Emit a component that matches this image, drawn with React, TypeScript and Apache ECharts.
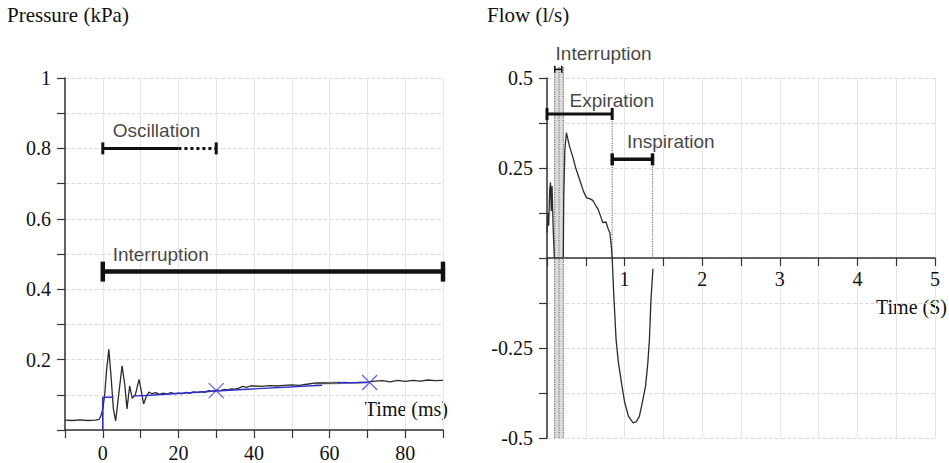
import React, { useEffect, useRef } from "react";
import * as echarts from "echarts";

// ---------- Pressure chart (left) ----------
const pressureTrace: [number, number][] = [
  [-10, 0.028], [-8, 0.027], [-6, 0.029], [-4, 0.027], [-2, 0.028], [-1, 0.03], [-0.5, 0.04],
  [0, 0.06], [0.5, 0.1], [1, 0.17], [1.6, 0.229], [2.2, 0.15], [2.8, 0.06], [3.4, 0.026],
  [4.2, 0.1], [5.1, 0.182], [5.8, 0.13], [6.4, 0.06], [7.1, 0.125], [7.8, 0.09], [8.6, 0.1],
  [9.6, 0.144], [10.2, 0.11], [10.8, 0.074], [11.5, 0.095], [12.2, 0.108], [13, 0.103],
  [14, 0.106], [15, 0.101], [16, 0.105], [17, 0.102], [18, 0.106], [19, 0.103], [20, 0.105],
  [21, 0.103], [22, 0.107], [23, 0.104], [24, 0.108], [25, 0.106], [26, 0.109], [27, 0.107],
  [28, 0.112], [29, 0.11], [30, 0.113], [31, 0.112], [32, 0.115], [33, 0.114], [34, 0.117],
  [35, 0.116], [36, 0.119], [37, 0.124], [38, 0.121], [39, 0.125], [40, 0.125], [42, 0.124],
  [44, 0.126], [46, 0.125], [48, 0.127], [50, 0.128], [52, 0.127], [54, 0.13], [56, 0.133],
  [58, 0.134], [60, 0.133], [62, 0.134], [64, 0.135], [66, 0.134], [68, 0.135], [70, 0.136],
  [72, 0.139], [74, 0.14], [76, 0.137], [78, 0.141], [80, 0.138], [82, 0.141], [84, 0.139],
  [86, 0.142], [88, 0.14], [90, 0.141],
];
const pressureFitStep: [number, number][] = [[0, 0], [0, 0.093], [2.8, 0.093]];
const pressureFitLine: [number, number][] = [[8, 0.097], [11.5, 0.098], [30, 0.111], [58, 0.127]];
const pressureFitEnd: [number, number][] = [[62, 0.134], [70, 0.135]];
const pressureFitGrey: [number, number][] = [[56, 0.132], [63, 0.134]];
const pressureCrosses: [number, number][] = [[30, 0.112], [70.6, 0.135]];

const oscillationSolid: [number, number][] = [[0, 0.8], [20, 0.8]];
const oscillationDotted: [number, number][] = [[20, 0.8], [30, 0.8]];
const interruptionLeft: [number, number][] = [[0, 0.45], [90, 0.45]];
const leftLabels = [
  { name: "Oscillation", value: [2.6, 0.85] },
  { name: "Interruption", value: [2.6, 0.5] },
];

// ---------- Flow chart (right) ----------
const flowTrace: [number, number][] = [
  [0.0, 0.07], [0.012, 0.125], [0.022, 0.09], [0.035, 0.19], [0.045, 0.21], [0.055, 0.13],
  [0.065, 0.2], [0.08, 0.08], [0.095, 0], [0.21, 0], [0.215, 0.16], [0.23, 0.3], [0.25, 0.348],
  [0.29, 0.31], [0.33, 0.283], [0.37, 0.25], [0.42, 0.218], [0.47, 0.185], [0.51, 0.167],
  [0.55, 0.165], [0.59, 0.16], [0.63, 0.145], [0.66, 0.135], [0.7, 0.11], [0.72, 0.098],
  [0.76, 0.1], [0.79, 0.08], [0.81, 0.07], [0.83, 0.03], [0.84, 0.0], [0.86, -0.1],
  [0.89, -0.226], [0.92, -0.29], [0.96, -0.347], [1.0, -0.4], [1.05, -0.44], [1.11, -0.458],
  [1.15, -0.455], [1.19, -0.44], [1.22, -0.41], [1.27, -0.356], [1.3, -0.29], [1.32, -0.226],
  [1.34, -0.115], [1.365, -0.03],
];
const interruptionBand = [0.09, 0.22, -0.5, 0.53];
const interruptionDots = [0.1, 0.155, 0.21];
const interruptionCap: [number, number][] = [[0.1, 0.524], [0.19, 0.524]];
const expirationBar: [number, number][] = [[0, 0.4], [0.84, 0.4]];
const inspirationBar: [number, number][] = [[0.84, 0.274], [1.36, 0.274]];
const phaseDots: [number, number][][] = [
  [[0.84, 0.4], [0.84, 0]],
  [[1.36, 0.274], [1.36, 0]],
];
const rightLabels = [
  { name: "Interruption", value: [0.11, 0.568] },
  { name: "Expiration", value: [0.29, 0.4375] },
  { name: "Inspiration", value: [1.03, 0.324] },
];

const serif = "'Liberation Serif', 'Times New Roman', serif";
const sans = "'Liberation Sans', Arial, sans-serif";
const ink = "#111";

const axisLine = { lineStyle: { color: "#333", width: 1.5 } };
const axisTick = { length: 8, lineStyle: { color: "#333", width: 1.2 } };
const tickFont = { fontFamily: serif, fontSize: 20, color: ink };

function capBar(
  data: [number, number][],
  xi: number,
  width: number,
  capW: number,
  capH: number,
  caps: [boolean, boolean],
  type: string = "solid"
) {
  return {
    type: "line",
    xAxisIndex: xi,
    yAxisIndex: xi,
    clip: false,
    z: 5,
    showSymbol: true,
    lineStyle: { color: ink, width, type },
    itemStyle: { color: ink },
    data: data.map((d, i) => ({
      value: d,
      symbol: caps[i] ? "rect" : "none",
      symbolSize: [capW, capH],
    })),
  };
}

function plainLine(data: [number, number][], xi: number, color: string, width: number, type = "solid", z = 3) {
  return {
    type: "line",
    xAxisIndex: xi,
    yAxisIndex: xi,
    clip: false,
    symbol: "none",
    z,
    lineStyle: { color, width, type },
    data,
  };
}

function labels(data: any[], xi: number) {
  return {
    type: "scatter",
    xAxisIndex: xi,
    yAxisIndex: xi,
    clip: false,
    symbolSize: 0,
    z: 6,
    label: {
      show: true,
      position: "right",
      distance: 0,
      formatter: "{b}",
      fontFamily: sans,
      fontSize: 19,
      color: ink,
    },
    data,
  };
}

const RIGHT_GRID_H = 360;

export default function App() {
  const ref = useRef<HTMLDivElement>(null);
  useEffect(() => {
    if (!ref.current) return;
    const chart = echarts.init(ref.current, null, { renderer: "svg" });
    const option: any = {
      animation: false,
      backgroundColor: "#fff",
      grid: [
        { left: 65, top: 78, width: 378, height: 353 },
        { left: 547, top: 78, width: 388, height: RIGHT_GRID_H },
      ],
      xAxis: [
        {
          type: "value",
          gridIndex: 0,
          min: -10,
          max: 90,
          interval: 10,
          axisLine,
          axisTick,
          axisLabel: {
            ...tickFont,
            margin: 13,
            formatter: (v: number) => (v >= 0 && Math.round(v) % 20 === 0 ? String(Math.round(v)) : ""),
          },
          splitLine: { show: true, lineStyle: { color: "#e6e6e6", width: 1 } },
        },
        {
          type: "value",
          gridIndex: 1,
          min: 0,
          max: 5,
          interval: 0.5,
          position: "bottom",
          offset: -RIGHT_GRID_H / 2,
          axisLine: { ...axisLine, onZero: false },
          axisTick,
          axisLabel: {
            ...tickFont,
            margin: 11,
            formatter: (v: number) => (v >= 1 && Math.abs(v - Math.round(v)) < 1e-6 ? String(Math.round(v)) : ""),
          },
          splitLine: { show: true, lineStyle: { color: "#e6e6e6", width: 1 } },
        },
      ],
      yAxis: [
        {
          type: "value",
          gridIndex: 0,
          min: 0,
          max: 1,
          interval: 0.1,
          axisLine: { ...axisLine, onZero: false },
          axisTick,
          axisLabel: {
            ...tickFont,
            margin: 14,
            formatter: (v: number) => {
              const r = Math.round(v * 10);
              return r > 0 && r % 2 === 0 ? String(r / 10) : "";
            },
          },
          splitLine: { show: true, lineStyle: { color: "#dddddd", type: "dashed", width: 1 } },
        },
        {
          type: "value",
          gridIndex: 1,
          min: -0.5,
          max: 0.5,
          interval: 0.125,
          axisLine: { ...axisLine, onZero: false },
          axisTick,
          axisLabel: {
            ...tickFont,
            margin: 14,
            formatter: (v: number) => {
              const r = Math.round(v * 1000) / 1000;
              if (r === 0) return "";
              return Math.abs(r * 4 - Math.round(r * 4)) < 1e-6 ? String(r) : "";
            },
          },
          splitLine: { show: true, lineStyle: { color: "#dddddd", type: "dashed", width: 1 } },
        },
      ],
      series: [
        plainLine(pressureFitGrey, 0, "#c4c4c4", 3, "solid", 2),
        plainLine(pressureTrace, 0, "#2b2b2b", 1.3, "solid", 3),
        plainLine(pressureFitStep, 0, "#2f2fd0", 1.6, "solid", 4),
        plainLine(pressureFitLine, 0, "#2f2fd0", 1.4, "solid", 4),
        plainLine(pressureFitEnd, 0, "#2f2fd0", 1.4, "solid", 4),
        {
          type: "scatter",
          xAxisIndex: 0,
          yAxisIndex: 0,
          symbol: "path://M0 0L10 10M10 0L0 10",
          symbolSize: 15,
          z: 5,
          itemStyle: { color: "rgba(0,0,0,0)", borderColor: "#3a3ad6", borderWidth: 1.2 },
          data: pressureCrosses,
        },
        capBar(oscillationSolid, 0, 3, 3, 12, [true, false]),
        capBar(oscillationDotted, 0, 3, 3, 12, [false, true], "dotted"),
        capBar(interruptionLeft, 0, 4.5, 4.5, 20, [true, true]),
        labels(leftLabels, 0),

        {
          type: "custom",
          xAxisIndex: 1,
          yAxisIndex: 1,
          clip: false,
          z: 1,
          encode: { x: [0, 1], y: [2, 3] },
          data: [interruptionBand],
          renderItem: (_p: any, api: any) => {
            const a = api.coord([api.value(0), api.value(2)]);
            const b = api.coord([api.value(1), api.value(3)]);
            return {
              type: "rect",
              shape: { x: a[0], y: b[1], width: b[0] - a[0], height: a[1] - b[1] },
              style: { fill: "#dddddd" },
            };
          },
        },
        ...interruptionDots.map((x) =>
          plainLine([[x, interruptionBand[2]], [x, interruptionBand[3]]], 1, "#777", 1.2, "dotted", 2)
        ),
        ...phaseDots.map((d) => plainLine(d, 1, "#777", 1.2, "dotted", 2)),
        plainLine(flowTrace, 1, "#2b2b2b", 1.3, "solid", 4),
        capBar(interruptionCap, 1, 1.5, 1.5, 7, [true, true]),
        capBar(expirationBar, 1, 3, 3, 12, [true, true]),
        capBar(inspirationBar, 1, 3.5, 3.5, 12, [true, true]),
        labels(rightLabels, 1),
      ],
      graphic: [
        {
          type: "text",
          left: 7,
          top: 4,
          style: { text: "Pressure (kPa)", font: `21px ${serif}`, fill: ink },
        },
        {
          type: "text",
          left: 487,
          top: 4,
          style: { text: "Flow (l/s)", font: `21px ${serif}`, fill: ink },
        },
        {
          type: "text",
          right: 501,
          top: 399,
          style: { text: "Time (ms)", font: `20px ${serif}`, fill: ink },
        },
        {
          type: "text",
          right: 2,
          top: 297,
          style: { text: "Time (S)", font: `20px ${serif}`, fill: ink },
        },
      ],
    };
    chart.setOption(option);
    return () => chart.dispose();
  }, []);
  return (
    <div
      ref={ref}
      style={{ position: "absolute", left: 0, top: 0, width: 949, height: 463 }}
    />
  );
}
